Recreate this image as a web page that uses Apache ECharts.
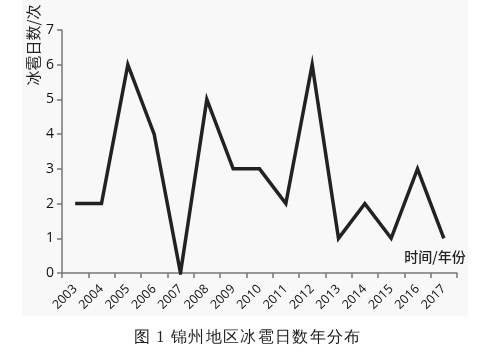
<!DOCTYPE html>
<html><head><meta charset="utf-8">
<script src="https://cdn.jsdelivr.net/npm/echarts@6/dist/echarts.min.js"></script>
<style>html,body{margin:0;padding:0;background:#fff}#c{width:500px;height:353px}</style>
</head><body><div id="c"></div>
<script>
const years = ['2003','2004','2005','2006','2007','2008','2009','2010','2011','2012','2013','2014','2015','2016','2017'];
const hailDays = [2,2,6,4,0,5,3,3,2,6,1,2,1,3,1];
const yTicks = [0,1,2,3,4,5,6,7];
const yName = '冰雹日数/次';
const xName = '时间/年份';
const caption = '图 1 锦州地区冰雹日数年分布';

const spacedCaption = Array.from(caption).join('\u200A');

const chart = echarts.init(document.getElementById('c'), null, {renderer:'canvas'});
chart.setOption({
  animation:false,
  backgroundColor:'#fff',
  grid:{left:62, top:30, right:43, bottom:80},
  graphic:[
    {type:'rect', z:-10, shape:{x:22,y:0,width:446,height:316}, style:{fill:'#f8f8f8'}},
    {type:'text', x:33, y:45, rotation:Math.PI/2, style:{text:yName, font:'15px "Noto Sans CJK SC"', fill:'#222', align:'center', verticalAlign:'middle'}},
    {type:'text', x:435, y:257, style:{text:xName, font:'500 14px "Noto Sans CJK SC"', fill:'#222', align:'center', verticalAlign:'middle'}},
    {type:'text', x:247, y:338, style:{text:spacedCaption, font:'16px serif', fill:'#222', align:'center', verticalAlign:'middle'}}
  ],
  xAxis:{
    type:'category', data:years, boundaryGap:true,
    axisLine:{lineStyle:{color:'#777', width:1.5}},
    axisTick:{show:true, alignWithLabel:false, length:5, lineStyle:{color:'#777', width:1.5}},
    axisLabel:{rotate:45, fontSize:12.5, fontWeight:500, color:'#111', fontFamily:'"Open Sans", sans-serif', margin:14, interval:0}
  },
  yAxis:{
    type:'value', min:0, max:7, interval:1,
    splitLine:{show:false},
    axisLine:{show:true, lineStyle:{color:'#777', width:1.5}},
    axisTick:{show:true, length:5, lineStyle:{color:'#777', width:1.5}},
    axisLabel:{fontSize:14, fontWeight:500, color:'#111', fontFamily:'"Open Sans", sans-serif', margin:8,
      formatter:v=>yTicks.includes(v)?String(v):''}
  },
  series:[{
    type:'line', data:hailDays, symbol:'none',
    lineStyle:{color:'#222', width:3.5, join:'miter'}
  }]
});
</script></body></html>
